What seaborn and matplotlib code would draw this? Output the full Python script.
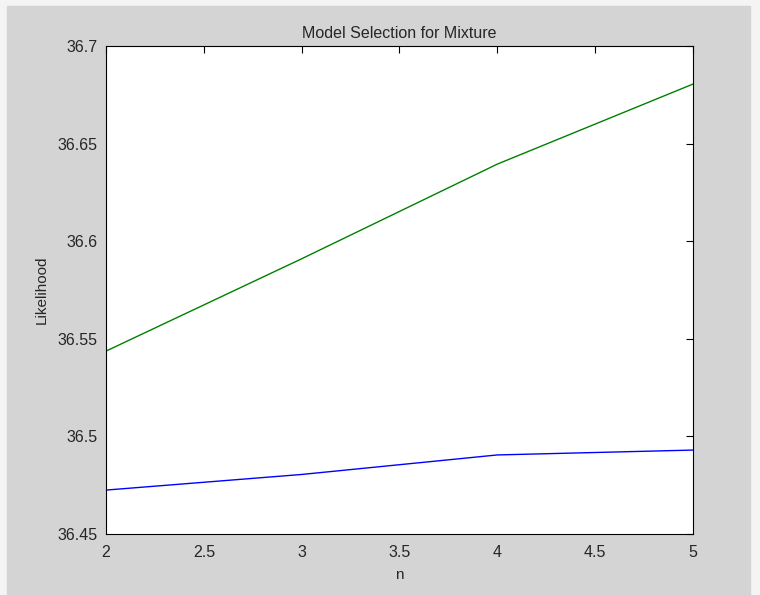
import pandas
import matplotlib
matplotlib.use("Agg")
import matplotlib.pyplot as plt
import seaborn

n = [2, 3, 4, 5]
likelihood_a = [36.4725, 36.4805, 36.4905, 36.4930]
likelihood_b = [36.5437, 36.5910, 36.6395, 36.6805]
series_names = ["a", "b"]
xticks = [2, 2.5, 3, 3.5, 4, 4.5, 5]
yticks = [36.45, 36.5, 36.55, 36.6, 36.65, 36.7]

dataframe = pandas.DataFrame({
    "n": n + n,
    "Likelihood": likelihood_a + likelihood_b,
    "series": [series_names[0]] * len(n) + [series_names[1]] * len(n),
})

seaborn.set_style("white")
plt.rcParams["font.family"] = ["Liberation Sans", "DejaVu Sans"]
plt.rcParams["xtick.direction"] = "in"
plt.rcParams["ytick.direction"] = "in"

fig = plt.figure(figsize=(7.6, 5.95), dpi=100, facecolor="#f4f4f4")
# grey window panel
fig.patches.append(plt.Rectangle((7 / 760, 0), 743 / 760, 589 / 595,
                                 transform=fig.transFigure, color="#d4d4d4", zorder=-10))
ax = fig.add_axes([106 / 760, 1 - 534 / 595, 587 / 760, 488 / 595])
ax.set_zorder(5)

seaborn.lineplot(data=dataframe, x="n", y="Likelihood", hue="series",
                 palette=["#0000ff", "#008000"], linewidth=1.0, ax=ax, legend=False)

ax.set_xlim(2, 5)
ax.set_ylim(36.45, 36.7)
ax.set_xticks(xticks)
ax.set_xticklabels([f"{t:g}" for t in xticks])
ax.set_yticks(yticks)
ax.set_yticklabels([f"{t:g}" for t in yticks])
ax.tick_params(which="both", top=True, right=True, length=5, width=0.8,
               labelsize=11.5, color="black", pad=6)
ax.tick_params(axis="x", pad=8)
for spine in ax.spines.values():
    spine.set_color("black")
    spine.set_linewidth(0.8)

ax.set_title("Model Selection for Mixture", fontsize=11.5, pad=6)
ax.set_xlabel("n", fontsize=11, labelpad=6)
ax.set_ylabel("Likelihood", fontsize=11, labelpad=6)

plt.savefig("out.png", dpi=100, facecolor=fig.get_facecolor())
